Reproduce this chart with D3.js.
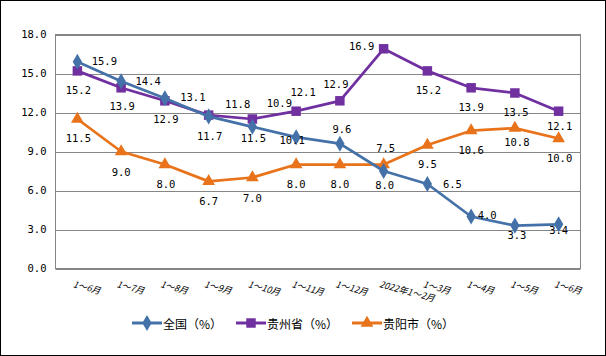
<!DOCTYPE html>
<html><head><meta charset="utf-8">
<script src="https://cdn.jsdelivr.net/npm/d3@7"></script>
<style>html,body{margin:0;padding:0;background:#fff;}svg{display:block;}</style>
</head><body>
<svg id="c" width="606" height="356"></svg>
<script>
const categories = ["1～6月","1～7月","1～8月","1～9月","1～10月","1～11月","1～12月","2022年1～2月","1～3月","1～4月","1～5月","1～6月"];
const national = [15.9,14.4,13.1,11.7,10.9,10.1,9.6,7.5,6.5,4.0,3.3,3.4];
const guizhou  = [15.2,13.9,12.9,11.8,11.5,12.1,12.9,16.9,15.2,13.9,13.5,12.1];
const guiyang  = [11.5,9.0,8.0,6.7,7.0,8.0,8.0,8.0,9.5,10.6,10.8,10.0];
const yTicks = [0,3,6,9,12,15,18];
const seriesNames = ["全国（%）","贵州省（%）","贵阳市（%）"];

// label placement offsets (layout only)
const offNational = [[27,-1],[27,0],[28,-1],[1,20],[27,-24],[-4,3],[2,-15],[2,-23],[25,0],[16,-2],[2,9],[0,6]];
const offGuizhou  = [[1,19],[1,18.5],[1,18],[29,-11],[1,18.5],[7,-19],[-4,-17],[-22,-3],[1,19],[0,19],[1,19],[1,15]];
const offGuiyang  = [[1,18.5],[0,20],[1,19],[0,20],[0,20],[0,19],[0,19],[1,20],[0,19],[0,19],[2,14],[1,19]];

const svg = d3.select("#c");
svg.append("rect").attr("x",0.5).attr("y",0.5).attr("width",605).attr("height",355)
  .attr("fill","#fff").attr("stroke","#000").attr("stroke-width",1);

const L = 55.5, R = 580.5, T = 34.5, B = 268.5;
const x = d3.scaleBand().domain(d3.range(categories.length)).range([L,R]);
const y = d3.scaleLinear().domain([0,18]).range([B,T]);
const cx = i => x(i) + x.bandwidth()/2;

// gridlines
svg.append("g").selectAll("line").data(yTicks).join("line")
  .attr("x1",L).attr("x2",R).attr("y1",d=>Math.round(y(d))+0.5).attr("y2",d=>Math.round(y(d))+0.5)
  .attr("stroke","#868686").attr("stroke-width",1);
// plot border
svg.append("rect").attr("x",L).attr("y",T).attr("width",R-L).attr("height",B-T)
  .attr("fill","none").attr("stroke","#868686");

// y axis labels
const yAxis = d3.axisLeft(y).tickValues(yTicks).tickFormat(d3.format(".1f")).tickSize(0).tickPadding(9);
const ga = svg.append("g").attr("transform",`translate(${L},0)`).call(yAxis);
ga.select(".domain").remove();
ga.selectAll("text").attr("font-family","DejaVu Sans Mono, monospace").attr("font-size","10.5px").attr("fill","#000");

// x labels
svg.append("g").selectAll("text").data(categories).join("text")
  .attr("transform",(d,i)=>`translate(${cx(i)-5},${287}) rotate(15)`)
  .attr("font-family","'Noto Sans CJK SC', sans-serif").attr("font-size","9px")
  .attr("font-style","italic").attr("fill","#000").text(d=>d);

const series = [
  {vals:national, color:"#4472A8", marker:"diamond", off:offNational},
  {vals:guizhou,  color:"#7030A0", marker:"square",  off:offGuizhou},
  {vals:guiyang,  color:"#E8731B", marker:"triangle",off:offGuiyang}
];
const sym = {diamond:d3.symbol(d3.symbolDiamond, 75), square:d3.symbol(d3.symbolSquare, 90), triangle:d3.symbol(d3.symbolTriangle, 70)};
const line = d3.line().x((d,i)=>cx(i)).y(d=>y(d));

// draw orange first, then purple, blue on top? order: blue, purple, orange
[2,1,0].forEach(k=>{
  const s = series[k];
  svg.append("path").datum(s.vals).attr("d",line).attr("fill","none")
    .attr("stroke",s.color).attr("stroke-width",2.75).attr("stroke-linejoin","round");
  svg.append("g").selectAll("path").data(s.vals).join("path")
    .attr("d",sym[s.marker]).attr("transform",(d,i)=>`translate(${cx(i)},${y(d)})`)
    .attr("fill",s.color);
});
// labels
series.forEach(s=>{
  svg.append("g").selectAll("text").data(s.vals).join("text")
    .attr("x",(d,i)=>cx(i)+s.off[i][0]).attr("y",(d,i)=>y(d)+s.off[i][1])
    .attr("text-anchor","middle").attr("dominant-baseline","central")
    .attr("font-family","DejaVu Sans Mono, monospace").attr("font-size","10.5px").attr("fill","#000")
    .text(d=>d3.format(".1f")(d));
});

// legend
const legX = [132, 236, 352];
const lg = svg.append("g");
series.forEach((s,k)=>{
  const g = lg.append("g").attr("transform",`translate(${legX[k]},323)`);
  g.append("line").attr("x1",0).attr("x2",30).attr("y1",0).attr("y2",0).attr("stroke",s.color).attr("stroke-width",3);
  g.append("path").attr("d",sym[s.marker]).attr("transform","translate(15,0)").attr("fill",s.color);
  g.append("text").attr("x",31).attr("y",0).attr("dominant-baseline","central")
    .attr("font-family","'Noto Sans CJK SC', sans-serif").attr("font-size","12px").attr("fill","#000")
    .text(seriesNames[k]);
});
</script>
</body></html>
